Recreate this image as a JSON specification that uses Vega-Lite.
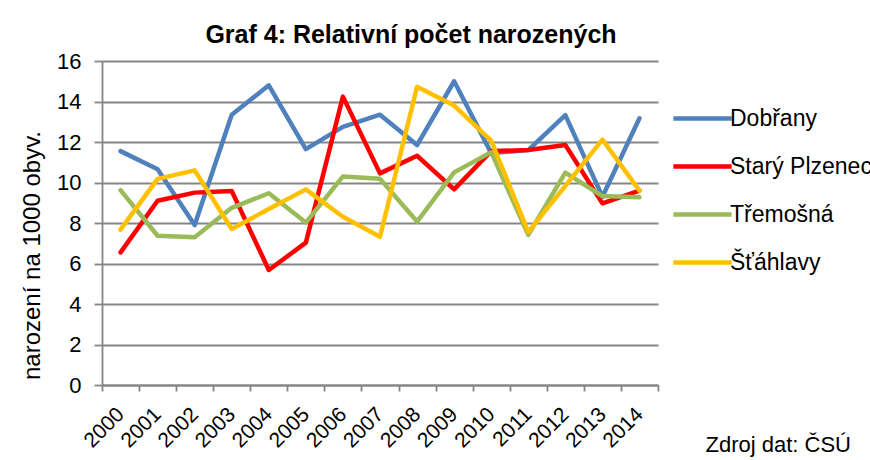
{
  "$schema": "https://vega.github.io/schema/vega-lite/v6.json",
  "autosize": "none",
  "width": 556,
  "height": 324,
  "padding": {"left": 102, "top": 61, "right": 212, "bottom": 75},
  "background": "white",
  "title": {
    "text": "Graf 4: Relativní počet narozených",
    "font": "Liberation Sans",
    "fontSize": 25,
    "fontWeight": "bold",
    "color": "black",
    "anchor": "middle",
    "frame": "group",
    "baseline": "alphabetic",
    "offset": 19,
    "dx": 31,
    "dy": 37
  },
  "config": {
    "view": {"stroke": null},
    "font": "Liberation Sans"
  },
  "data": {
    "values": [
      {"year": "2000", "series": "Dobřany", "value": 11.55},
      {"year": "2001", "series": "Dobřany", "value": 10.65},
      {"year": "2002", "series": "Dobřany", "value": 7.9},
      {"year": "2003", "series": "Dobřany", "value": 13.35},
      {"year": "2004", "series": "Dobřany", "value": 14.8},
      {"year": "2005", "series": "Dobřany", "value": 11.65},
      {"year": "2006", "series": "Dobřany", "value": 12.75},
      {"year": "2007", "series": "Dobřany", "value": 13.35},
      {"year": "2008", "series": "Dobřany", "value": 11.85},
      {"year": "2009", "series": "Dobřany", "value": 15.0},
      {"year": "2010", "series": "Dobřany", "value": 11.45},
      {"year": "2011", "series": "Dobřany", "value": 11.6},
      {"year": "2012", "series": "Dobřany", "value": 13.33},
      {"year": "2013", "series": "Dobřany", "value": 9.3},
      {"year": "2014", "series": "Dobřany", "value": 13.17},
      {"year": "2000", "series": "Starý Plzenec", "value": 6.55},
      {"year": "2001", "series": "Starý Plzenec", "value": 9.1},
      {"year": "2002", "series": "Starý Plzenec", "value": 9.5},
      {"year": "2003", "series": "Starý Plzenec", "value": 9.58},
      {"year": "2004", "series": "Starý Plzenec", "value": 5.68},
      {"year": "2005", "series": "Starý Plzenec", "value": 7.03},
      {"year": "2006", "series": "Starý Plzenec", "value": 14.24},
      {"year": "2007", "series": "Starý Plzenec", "value": 10.45},
      {"year": "2008", "series": "Starý Plzenec", "value": 11.32},
      {"year": "2009", "series": "Starý Plzenec", "value": 9.66},
      {"year": "2010", "series": "Starý Plzenec", "value": 11.55},
      {"year": "2011", "series": "Starý Plzenec", "value": 11.6},
      {"year": "2012", "series": "Starý Plzenec", "value": 11.85},
      {"year": "2013", "series": "Starý Plzenec", "value": 8.97},
      {"year": "2014", "series": "Starý Plzenec", "value": 9.6},
      {"year": "2000", "series": "Třemošná", "value": 9.62},
      {"year": "2001", "series": "Třemošná", "value": 7.37},
      {"year": "2002", "series": "Třemošná", "value": 7.3},
      {"year": "2003", "series": "Třemošná", "value": 8.75},
      {"year": "2004", "series": "Třemošná", "value": 9.47},
      {"year": "2005", "series": "Třemošná", "value": 8.02},
      {"year": "2006", "series": "Třemošná", "value": 10.3},
      {"year": "2007", "series": "Třemošná", "value": 10.18},
      {"year": "2008", "series": "Třemošná", "value": 8.07},
      {"year": "2009", "series": "Třemošná", "value": 10.5},
      {"year": "2010", "series": "Třemošná", "value": 11.5},
      {"year": "2011", "series": "Třemošná", "value": 7.41},
      {"year": "2012", "series": "Třemošná", "value": 10.49},
      {"year": "2013", "series": "Třemošná", "value": 9.33},
      {"year": "2014", "series": "Třemošná", "value": 9.27},
      {"year": "2000", "series": "Šťáhlavy", "value": 7.67},
      {"year": "2001", "series": "Šťáhlavy", "value": 10.18},
      {"year": "2002", "series": "Šťáhlavy", "value": 10.6},
      {"year": "2003", "series": "Šťáhlavy", "value": 7.7},
      {"year": "2004", "series": "Šťáhlavy", "value": 8.69},
      {"year": "2005", "series": "Šťáhlavy", "value": 9.66},
      {"year": "2006", "series": "Šťáhlavy", "value": 8.31},
      {"year": "2007", "series": "Šťáhlavy", "value": 7.32},
      {"year": "2008", "series": "Šťáhlavy", "value": 14.73},
      {"year": "2009", "series": "Šťáhlavy", "value": 13.8},
      {"year": "2010", "series": "Šťáhlavy", "value": 12.07},
      {"year": "2011", "series": "Šťáhlavy", "value": 7.55},
      {"year": "2012", "series": "Šťáhlavy", "value": 9.83},
      {"year": "2013", "series": "Šťáhlavy", "value": 12.12},
      {"year": "2014", "series": "Šťáhlavy", "value": 9.6}
    ]
  },
  "mark": {"type": "line", "strokeWidth": 4.5, "strokeJoin": "round", "strokeCap": "round"},
  "encoding": {
    "x": {
      "field": "year",
      "type": "nominal",
      "scale": {"type": "band", "paddingInner": 0, "paddingOuter": 0},
      "axis": {
        "title": "Zdroj dat: ČSÚ",
        "titleFont": "Liberation Sans",
        "titleFontSize": 22,
        "titleFontWeight": "normal",
        "titleColor": "black",
        "titleAnchor": "start",
        "titleAlign": "left",
        "titleBaseline": "alphabetic",
        "titleX": 603,
        "titleY": 66,
        "labelAngle": -45,
        "labelAlign": "right",
        "labelBaseline": "middle",
        "labelFontSize": 21,
        "labelColor": "black",
        "labelPadding": 20,
        "tickBand": "extent",
        "tickSize": 6,
        "tickColor": "#868686",
        "tickWidth": 1.8,
        "domainColor": "#868686",
        "domainWidth": 1.8,
        "grid": false
      }
    },
    "y": {
      "field": "value",
      "type": "quantitative",
      "scale": {"domain": [0, 16], "nice": false},
      "axis": {
        "title": "narození na 1000 obyv.",
        "titleFont": "Liberation Sans",
        "titleFontSize": 24,
        "titleFontWeight": "normal",
        "titleColor": "black",
        "titleAlign": "center",
        "titleBaseline": "alphabetic",
        "titleX": -63,
        "titleY": 194,
        "values": [0, 2, 4, 6, 8, 10, 12, 14, 16],
        "labelFontSize": 22,
        "labelColor": "black",
        "labelPadding": 13,
        "tickSize": 8,
        "tickColor": "#868686",
        "tickWidth": 1.8,
        "domainColor": "#868686",
        "domainWidth": 1.8,
        "grid": true,
        "gridColor": "#868686",
        "gridWidth": 1.8
      }
    },
    "color": {
      "field": "series",
      "type": "nominal",
      "sort": ["Dobřany", "Starý Plzenec", "Třemošná", "Šťáhlavy"],
      "scale": {
        "domain": ["Dobřany", "Starý Plzenec", "Třemošná", "Šťáhlavy"],
        "range": ["#4F81BD", "#FF0000", "#9BBB59", "#FFC000"]
      },
      "legend": {
        "title": null,
        "orient": "none",
        "legendX": 569,
        "legendY": 26,
        "symbolType": "stroke",
        "symbolSize": 3400,
        "symbolStrokeWidth": 4.5,
        "labelFontSize": 23,
        "labelColor": "black",
        "labelOffset": -4,
        "labelLimit": 0,
        "rowPadding": 4,
        "padding": 0
      }
    }
  }
}
